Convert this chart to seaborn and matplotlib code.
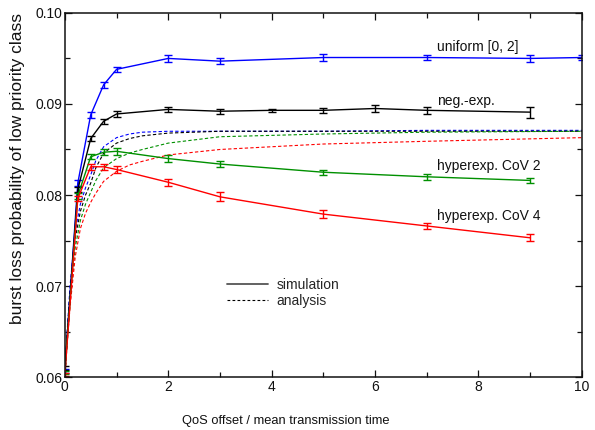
import matplotlib
matplotlib.use("Agg")
import matplotlib.pyplot as plt
import numpy as np
import pandas as pd
import seaborn as sns
from matplotlib.lines import Line2D
from matplotlib.ticker import MultipleLocator, FormatStrFormatter

sns.set_theme(style="ticks")
plt.rcParams['font.family'] = ['Liberation Sans', 'DejaVu Sans']

# --- simulation results (mean + confidence half-width) ---
uni_x = [0, 0.25, 0.5, 0.75, 1, 2, 3, 5, 7, 9, 10]
uni_y = [0.0607, 0.0813, 0.0888, 0.0921, 0.0938, 0.0950, 0.0947, 0.0951, 0.0951, 0.0950, 0.0951]
uni_e = [0.0002, 0.0003, 0.0003, 0.0003, 0.0003, 0.0004, 0.0003, 0.0004, 0.0003, 0.0004, 0.0003]

exp_x = [0, 0.25, 0.5, 0.75, 1, 2, 3, 4, 5, 6, 7, 9]
exp_y = [0.0610, 0.0806, 0.0862, 0.0881, 0.0889, 0.0894, 0.0892, 0.0893, 0.0893, 0.0895, 0.0893, 0.0891]
exp_e = [0.0002, 0.0003, 0.0003, 0.0003, 0.0003, 0.0003, 0.0003, 0.0002, 0.0003, 0.0004, 0.0004, 0.0006]

h2_x = [0, 0.25, 0.5, 0.75, 1, 2, 3, 5, 7, 9]
h2_y = [0.0605, 0.0799, 0.0842, 0.0847, 0.0848, 0.0840, 0.0834, 0.0825, 0.0820, 0.0816]
h2_e = [0.0002, 0.0003, 0.0003, 0.0003, 0.0004, 0.0004, 0.0003, 0.0003, 0.0003, 0.0003]

h4_x = [0, 0.25, 0.5, 0.75, 1, 2, 3, 5, 7, 9]
h4_y = [0.0603, 0.0796, 0.0831, 0.0831, 0.0828, 0.0814, 0.0798, 0.0779, 0.0766, 0.0753]
h4_e = [0.0002, 0.0003, 0.0003, 0.0003, 0.0004, 0.0004, 0.0005, 0.0004, 0.0003, 0.0004]

# --- analytical curves ---
ana_x = [0, 0.05, 0.1, 0.2, 0.3, 0.4, 0.5, 0.6, 0.75, 1, 1.25, 1.5, 2, 3, 5, 7, 10]
uni_a = [0.0600, 0.0655, 0.0700, 0.0760, 0.0790, 0.0808, 0.0822, 0.0838, 0.0853, 0.0863,
         0.0867, 0.0869, 0.0870, 0.0870, 0.0870, 0.0871, 0.0871]
exp_a = [0.0600, 0.0650, 0.0693, 0.0752, 0.0782, 0.0800, 0.0813, 0.0830, 0.0846, 0.0857,
         0.0862, 0.0865, 0.0868, 0.0870, 0.0870, 0.0870, 0.0870]
h2_a = [0.0600, 0.0645, 0.0685, 0.0742, 0.0772, 0.0790, 0.0803, 0.0816, 0.0830, 0.0840,
        0.0846, 0.0850, 0.0857, 0.0864, 0.0867, 0.0869, 0.0870]
h4_a = [0.0600, 0.0640, 0.0677, 0.0732, 0.0763, 0.0780, 0.0792, 0.0802, 0.0815, 0.0826,
        0.0833, 0.0837, 0.0844, 0.0850, 0.0856, 0.0859, 0.0863]

labels = ["uniform [0, 2]", "neg.-exp.", "hyperexp. CoV 2", "hyperexp. CoV 4"]
colors = ["#0000ff", "#000000", "#009000", "#ff0000"]
label_y = [0.0958, 0.0899, 0.0828, 0.0772]

fig = plt.figure(figsize=(5.95, 4.3), dpi=100)
ax = fig.add_axes([0.109, 0.123, 0.869, 0.847])

sims = [(uni_x, uni_y, uni_e), (exp_x, exp_y, exp_e), (h2_x, h2_y, h2_e), (h4_x, h4_y, h4_e)]
anas = [uni_a, exp_a, h2_a, h4_a]

for ay, c in zip(anas, colors):
    sns.lineplot(x=ana_x, y=ay, ax=ax, color=c, lw=0.8,
                 linestyle=(0, (3, 2)), estimator=None, sort=False)
for (sx, sy, se), c in zip(sims, colors):
    sns.lineplot(x=sx, y=sy, ax=ax, color=c, lw=1.0, estimator=None, sort=False)
    ax.errorbar(sx, sy, yerr=se, fmt='none', ecolor=c, elinewidth=1.0,
                capsize=3, capthick=1.0)

for lab, ly in zip(labels, label_y):
    ax.text(7.2, ly, lab, fontsize=10, va='baseline', ha='left', color='#111111')

ax.set_xlim(0, 10)
ax.set_ylim(0.06, 0.10)
ax.xaxis.set_major_locator(MultipleLocator(2))
ax.xaxis.set_minor_locator(MultipleLocator(1))
ax.yaxis.set_major_locator(MultipleLocator(0.01))
ax.yaxis.set_minor_locator(MultipleLocator(0.005))
ax.yaxis.set_major_formatter(FormatStrFormatter('%.2f'))
ax.xaxis.set_major_formatter(FormatStrFormatter('%d'))
ax.tick_params(which='both', direction='in', top=True, right=True, labelsize=10,
               width=0.9, color='#111111', labelcolor='#111111')
ax.tick_params(which='major', length=5, pad=2)
ax.tick_params(which='minor', length=3.5)
for sp in ax.spines.values():
    sp.set_linewidth(1.1)
    sp.set_color('#111111')

ax.set_xlabel("QoS offset / mean transmission time", fontsize=9.3, color='#111111')
ax.xaxis.set_label_coords(0.427, -0.104)
ax.set_ylabel("burst loss probability of low priority class", fontsize=12.5, color='#111111')
ax.yaxis.set_label_coords(-0.078, 0.574)

handles = [Line2D([], [], color='#555555', lw=1.3),
           Line2D([], [], color='black', lw=0.8, linestyle=(0, (2.5, 2)))]
ax.legend(handles, ["simulation", "analysis"], loc='center left',
          bbox_to_anchor=(0.313, 0.231), frameon=False, fontsize=10,
          handlelength=2.95, handletextpad=0.65, labelspacing=0.12,
          borderpad=0, borderaxespad=0)

fig.savefig("out.png", dpi=100)
